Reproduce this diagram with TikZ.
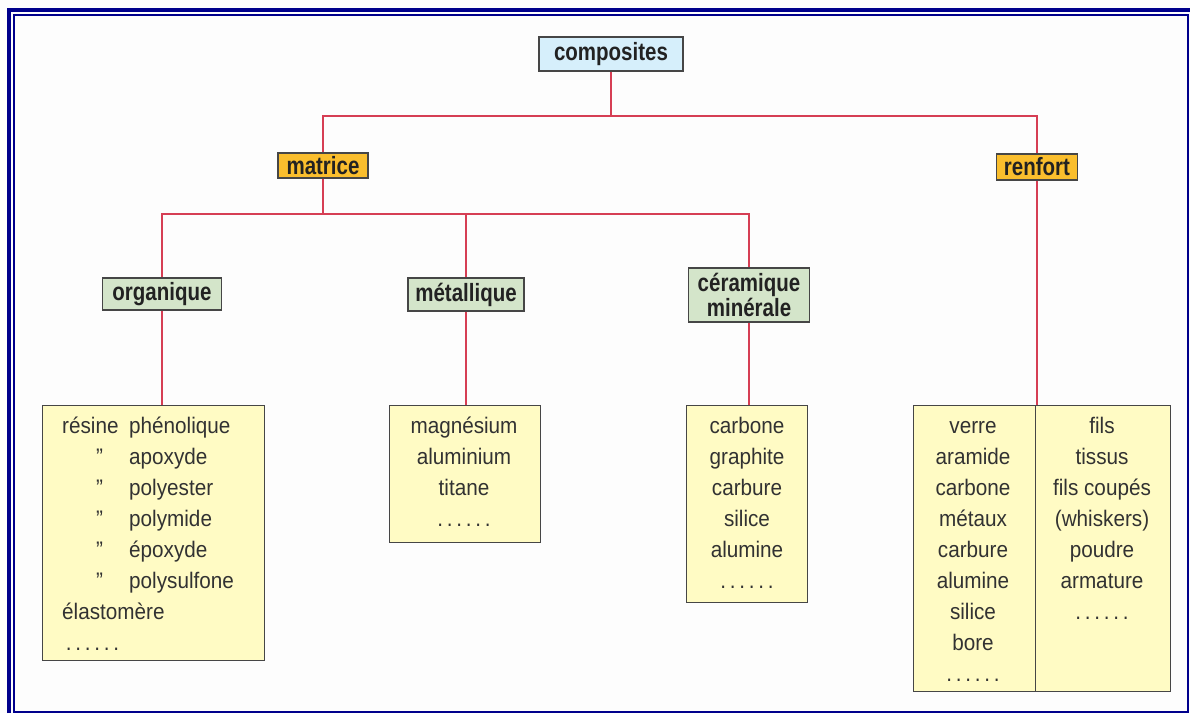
\documentclass[tikz,border=0pt]{standalone}
\usepackage{fontspec}
\setmainfont{Liberation Sans}[FakeStretch=0.92]
\newfontfamily\lblfont{Liberation Sans}[FakeStretch=0.82]
\definecolor{bgC}{RGB}{253,253,253}
\definecolor{frameC}{RGB}{0,0,140}
\definecolor{lineC}{RGB}{214,62,84}
\definecolor{boxC}{RGB}{70,70,70}
\definecolor{blueC}{RGB}{214,239,251}
\definecolor{orangeC}{RGB}{250,190,45}
\definecolor{greenC}{RGB}{212,229,202}
\definecolor{yellowC}{RGB}{255,251,196}
\definecolor{txtC}{RGB}{34,34,34}
\definecolor{txtB}{RGB}{50,50,50}
\newcommand\cl[1]{\hbox to 0pt{\hss#1\hss}}
\newcommand\lf[1]{\hbox{#1}}
\begin{document}
\begin{tikzpicture}[x=1pt,y=-1pt,
  conn/.style={draw=lineC, line width=1.3pt},
  lbl/.style={draw=boxC, line width=1.2pt, inner sep=0pt, text=txtC,
    font=\lblfont\bfseries\fontsize{25}{23}\selectfont},
  listbox/.style={draw=boxC, fill=yellowC, line width=1.2pt, inner sep=0pt, anchor=north west},
  listtxt/.style={inner sep=0pt, anchor=base, text=txtB, font=\fontsize{22.5}{31}\selectfont}]
\useasboundingbox (0,0) rectangle (1190,713);
\fill[bgC] (0,0) rectangle (1190,713);
% frame
\draw[frameC, line width=4pt] (9,713) -- (9,10) -- (1190,10);
\draw[frameC, line width=2pt] (13.7,711.5) rectangle (1188.3,14.7);
% label nodes
\node[lbl, fill=blueC, minimum width=144pt, minimum height=34pt] (comp) at (611,54) {composites};
\node[lbl, fill=orangeC, minimum width=90pt, minimum height=25pt] (mat) at (323,165.5) {matrice};
\node[lbl, fill=orangeC, minimum width=81pt, minimum height=26pt] (ren) at (1037,167) {renfort};
\node[lbl, fill=greenC, minimum width=119pt, minimum height=32pt] (org) at (162,294) {organique};
\node[lbl, fill=greenC, minimum width=116pt, minimum height=33pt] (met) at (466,294.5) {métallique};
\node[lbl, fill=greenC, minimum width=121pt, minimum height=54pt, align=center] (cer) at (749,295) {céramique\\minérale};
% list boxes
\node[listbox, minimum width=222pt, minimum height=255pt] (orgbox) at (42,405) {};
\node[listbox, minimum width=151pt, minimum height=137pt] (metbox) at (389,405) {};
\node[listbox, minimum width=121pt, minimum height=197pt] (cerbox) at (686,405) {};
\node[listbox, minimum width=122pt, minimum height=286pt] (renL) at (913,405) {};
\node[listbox, minimum width=135pt, minimum height=286pt] (renR) at (1035,405) {};
% connectors
\coordinate (j1) at (611,116);
\coordinate (j2) at (323,214);
\draw[conn] (comp.south) -- (j1);
\draw[conn] (j1) -| (mat.north);
\draw[conn] (j1) -| (ren.north);
\draw[conn] (mat.south) -- (j2);
\draw[conn] (j2) -| (org.north);
\draw[conn] (j2) -| (met.north);
\draw[conn] (j2) -| (cer.north);
\draw[conn] (org.south) -- (org.south |- orgbox.north);
\draw[conn] (met.south) -- (met.south |- metbox.north);
\draw[conn] (cer.south) -- (cer.south |- cerbox.north);
\draw[conn] (ren.south) -- (ren.south |- renR.north);
% texts
\node[listtxt, anchor=base west] (orgtxt) at (62,433) {\vtop{\baselineskip=31pt\lineskiplimit=-100pt
  \lf{\makebox[67pt][l]{résine}phénolique}
  \lf{\makebox[67pt][l]{\hspace{34pt}”}apoxyde}
  \lf{\makebox[67pt][l]{\hspace{34pt}”}polyester}
  \lf{\makebox[67pt][l]{\hspace{34pt}”}polymide}
  \lf{\makebox[67pt][l]{\hspace{34pt}”}époxyde}
  \lf{\makebox[67pt][l]{\hspace{34pt}”}polysulfone}
  \lf{élastomère}
  \lf{\,.\,.\,.\,.\,.\,.}}};
\node[listtxt] (mettxt) at (464,433) {\vtop{\baselineskip=31pt\lineskiplimit=-100pt
  \cl{magnésium}\cl{aluminium}\cl{titane}\cl{.\,.\,.\,.\,.\,.}}};
\node[listtxt] (certxt) at (747,433) {\vtop{\baselineskip=31pt\lineskiplimit=-100pt
  \cl{carbone}\cl{graphite}\cl{carbure}\cl{silice}\cl{alumine}\cl{.\,.\,.\,.\,.\,.}}};
\node[listtxt] (renLtxt) at (973,433) {\vtop{\baselineskip=31pt\lineskiplimit=-100pt
  \cl{verre}\cl{aramide}\cl{carbone}\cl{métaux}\cl{carbure}\cl{alumine}\cl{silice}\cl{bore}\cl{.\,.\,.\,.\,.\,.}}};
\node[listtxt] (renRtxt) at (1102,433) {\vtop{\baselineskip=31pt\lineskiplimit=-100pt
  \cl{fils}\cl{tissus}\cl{fils coupés}\cl{(whiskers)}\cl{poudre}\cl{armature}\cl{.\,.\,.\,.\,.\,.}}};
\end{tikzpicture}
\end{document}
